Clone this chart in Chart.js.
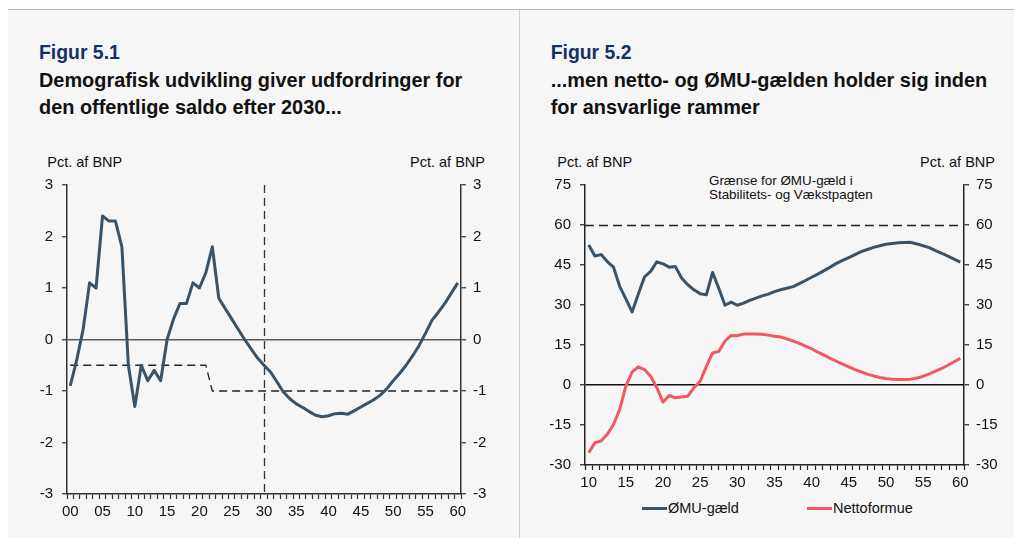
<!DOCTYPE html>
<html lang="da">
<head>
<meta charset="utf-8">
<title>Figur 5.1 og 5.2</title>
<script src="https://cdn.jsdelivr.net/npm/chart.js@4.4.1/dist/chart.umd.min.js"></script>
<style>
  html, body { margin: 0; padding: 0; background: #fff; }
  body { width: 1014px; height: 538px; position: relative; overflow: hidden;
         font-family: 'Liberation Sans', Arial, sans-serif; color: #111; }
  #panel { position: absolute; left: 8px; top: 9px; width: 1006px; height: 529px;
           background: #f6f6f6; border-top: 1px solid #bdbdbd; }
  #divider { position: absolute; left: 519px; top: 10px; width: 1px; height: 528px; background: #d2d2d2; }
  .head { position: absolute; top: 39.4px; font-weight: bold; font-size: 19.9px; line-height: 27.5px; white-space: nowrap; }
  .head .num { color: #13306b; font-size: 19.4px; }
  .unit { position: absolute; top: 153.7px; font-size: 14.5px; line-height: 16px; white-space: nowrap; }
  .note { position: absolute; left: 709px; top: 174.2px; font-size: 13.4px; line-height: 13.6px; white-space: nowrap; }
  .key { position: absolute; top: 500.3px; font-size: 14.5px; line-height: 16px; padding-left: 26.3px; white-space: nowrap; }
  .key span { position: absolute; left: 0; top: 7px; width: 25px; height: 3px; }
  canvas { position: absolute; }
</style>
</head>
<body>
<div id="panel"></div>
<div id="divider"></div>

<div class="head" style="left:39px"><span class="num">Figur 5.1</span><br>Demografisk udvikling giver udfordringer for<br>den offentlige saldo efter 2030...</div>
<div class="head" style="left:550.7px"><span class="num">Figur 5.2</span><br>...men netto- og ØMU-gælden holder sig inden<br>for ansvarlige rammer</div>

<div class="unit" style="left:47.3px">Pct. af BNP</div>
<div class="unit" style="right:529px">Pct. af BNP</div>
<div class="unit" style="left:557.3px">Pct. af BNP</div>
<div class="unit" style="right:19px">Pct. af BNP</div>

<div class="note">Grænse for ØMU-gæld i<br>Stabilitets- og Vækstpagten</div>

<div class="key" style="left:641.7px"><span id="key1"></span>ØMU-gæld</div>
<div class="key" style="left:806.7px"><span id="key2"></span>Nettoformue</div>

<canvas id="fig1" width="500" height="353" style="left:10px;top:167px"></canvas>
<canvas id="fig2" width="484" height="328" style="left:530px;top:167px"></canvas>

<script>
// Figur 5.1: offentlig saldo 2000-2060, pct. af BNP
const fig1Years = Array.from({ length: 61 }, (_, i) => 2000 + i);
const fig1Saldo = [
  -0.9, -0.4, 0.2, 1.1, 1.0, 2.4, 2.3, 2.3, 1.8, -0.5,
  -1.3, -0.5, -0.8, -0.6, -0.8, 0.0, 0.4, 0.7, 0.7, 1.1,
  1.0, 1.3, 1.8, 0.8, 0.6, 0.4, 0.2, 0.0, -0.18, -0.36,
  -0.5, -0.63, -0.82, -1.02, -1.15, -1.25, -1.32, -1.4, -1.47, -1.5,
  -1.48, -1.44, -1.43, -1.45, -1.38, -1.31, -1.24, -1.17, -1.08, -0.96,
  -0.8, -0.66, -0.5, -0.32, -0.12, 0.12, 0.37, 0.53, 0.7, 0.9,
  1.1
];
// Målsætning for strukturel saldo (stiplet)
const fig1Target = [
  -0.5, -0.5, -0.5, -0.5, -0.5, -0.5, -0.5, -0.5, -0.5, -0.5,
  -0.5, -0.5, -0.5, -0.5, -0.5, -0.5, -0.5, -0.5, -0.5, -0.5,
  -0.5, -0.5, -1, -1, -1, -1, -1, -1, -1, -1,
  -1, -1, -1, -1, -1, -1, -1, -1, -1, -1,
  -1, -1, -1, -1, -1, -1, -1, -1, -1, -1,
  -1, -1, -1, -1, -1, -1, -1, -1, -1, -1,
  -1
];
const fig1Split = 2030;
const fig1YTicks = { min: -3, max: 3, step: 1 };

// Figur 5.2: ØMU-gæld og nettoformue 2010-2060, pct. af BNP (61 observationer)
const fig2Debt = [
  52.5, 48.4, 48.9, 46.3, 44.2, 37.0, 32.3, 27.4, 34.0, 40.5,
  42.6, 46.2, 45.4, 44.2, 44.4, 40.1, 37.6, 35.7, 34.2, 33.8,
  42.2, 36.3, 29.9, 31.1, 29.9, 30.7, 31.7, 32.6, 33.4, 34.1,
  35.0, 35.7, 36.3, 36.9, 38.0, 39.2, 40.4, 41.6, 42.9, 44.2,
  45.6, 46.7, 47.8, 48.9, 50.0, 50.8, 51.6, 52.2, 52.8, 53.1,
  53.3, 53.4, 53.5, 52.9, 52.2, 51.5, 50.4, 49.4, 48.3, 47.2,
  46.1
];
const fig2Net = [
  -25.4, -21.6, -21.0, -18.5, -14.8, -9.2, -0.4, 4.8, 6.8, 5.8,
  3.3, -1.0, -6.4, -3.9, -4.8, -4.5, -4.2, -1.0, 1.4, 7.0,
  12.0, 12.6, 16.4, 18.6, 18.5, 19.1, 19.1, 19.1, 19.0, 18.7,
  18.3, 18.0, 17.3, 16.5, 15.6, 14.6, 13.6, 12.3, 11.2, 10.0,
  8.9, 7.8, 6.8, 5.8, 4.9, 4.1, 3.4, 2.8, 2.4, 2.2,
  2.1, 2.1, 2.2, 2.6, 3.3, 4.2, 5.2, 6.2, 7.4, 8.7,
  10.0
];
const fig2First = 2010, fig2Last = 2060;
const fig2Limit = 60;
const fig2YTicks = { min: -30, max: 75, step: 15 };

const navyLine = '#3b5366';
const redLine = '#f2585f';

document.getElementById('key1').style.background = navyLine;
document.getElementById('key2').style.background = redLine;

Chart.defaults.font.family = "'Liberation Sans', Arial, sans-serif";
Chart.defaults.font.size = 15;
Chart.defaults.color = '#111';

// dashed reference lines across the plot area
const refLines = {
  id: 'refLines',
  beforeDatasetsDraw(chart, args, opts) {
    const { ctx, chartArea: a, scales } = chart;
    ctx.save();
    ctx.strokeStyle = opts.color || '#222';
    ctx.lineWidth = opts.width || 1.3;
    ctx.setLineDash(opts.dash || [8, 5]);
    (opts.x || []).forEach(v => {
      const px = Math.round(scales.x.getPixelForValue(v)) + 0.5;
      ctx.beginPath(); ctx.moveTo(px, a.top); ctx.lineTo(px, a.bottom); ctx.stroke();
    });
    (opts.y || []).forEach(v => {
      const py = Math.round(scales.y.getPixelForValue(v)) + 0.5;
      ctx.beginPath(); ctx.moveTo(a.left, py); ctx.lineTo(a.right, py); ctx.stroke();
    });
    ctx.restore();
  }
};

// tick marks sit between the years, labels on every fifth year
function halfTicks(axis) {
  const ticks = [];
  for (let v = axis.min; v <= axis.max + 1e-9; v += 0.5) ticks.push({ value: v });
  axis.ticks = ticks;
}

function xAxis(min, max, height, axisColor) {
  return {
    type: 'linear', min: min, max: max,
    afterBuildTicks: halfTicks,
    afterFit: s => { s.height = height; },
    grid: {
      drawOnChartArea: false, tickLength: 5, tickWidth: 1.2,
      tickColor: c => Number.isInteger(c.tick.value) ? 'rgba(0,0,0,0)' : axisColor
    },
    border: { color: axisColor, width: 1.5 },
    ticks: {
      autoSkip: false, maxRotation: 0, padding: 4,
      callback: v => (Number.isInteger(v) && v % 5 === 0) ? String(v).slice(2) : ''
    }
  };
}

function yAxis(pos, t, width, pad, axisColor, zeroColor) {
  return {
    position: pos, min: t.min, max: t.max,
    afterFit: s => { s.width = width; },
    ticks: { stepSize: t.step, padding: pad },
    grid: {
      drawOnChartArea: pos === 'left',
      color: c => (c.tick && c.tick.value === 0) ? zeroColor : 'rgba(0,0,0,0)',
      lineWidth: 1.5,
      tickColor: axisColor, tickLength: 5, tickWidth: 1.2
    },
    border: { color: axisColor, width: 1.5 }
  };
}

const lineStyle = { pointRadius: 0, borderJoinStyle: 'round', tension: 0, fill: false };

new Chart(document.getElementById('fig1'), {
  type: 'line',
  data: {
    datasets: [
      Object.assign({
        label: 'Saldo',
        data: fig1Saldo.map((v, i) => ({ x: fig1Years[i], y: v })),
        borderColor: navyLine, borderWidth: 3
      }, lineStyle),
      Object.assign({
        label: 'Mål',
        data: fig1Target.map((v, i) => ({ x: fig1Years[i], y: v })),
        borderColor: '#222', borderWidth: 1.3, borderDash: [8, 5]
      }, lineStyle)
    ]
  },
  options: {
    responsive: false, animation: false, devicePixelRatio: 1,
    layout: { padding: 0 },
    plugins: {
      legend: { display: false }, tooltip: { enabled: false },
      refLines: { x: [fig1Split], color: '#333', width: 1.3, dash: [8, 5] }
    },
    scales: {
      x: xAxis(fig1Years[0] - 0.5, fig1Years[fig1Years.length - 1] + 0.5, 26, '#333'),
      y: yAxis('left', fig1YTicks, 57, 9, '#333', '#5a5a5a'),
      y2: yAxis('right', fig1YTicks, 49, 7, '#333', '#5a5a5a')
    }
  },
  plugins: [refLines]
});

const fig2Step = (fig2Last - fig2First) / (fig2Debt.length - 1);

new Chart(document.getElementById('fig2'), {
  type: 'line',
  data: {
    datasets: [
      Object.assign({
        label: 'ØMU-gæld',
        data: fig2Debt.map((v, i) => ({ x: fig2First + i * fig2Step, y: v })),
        borderColor: navyLine, borderWidth: 3
      }, lineStyle),
      Object.assign({
        label: 'Nettoformue',
        data: fig2Net.map((v, i) => ({ x: fig2First + i * fig2Step, y: v })),
        borderColor: redLine, borderWidth: 3
      }, lineStyle)
    ]
  },
  options: {
    responsive: false, animation: false, devicePixelRatio: 1,
    layout: { padding: 0 },
    plugins: {
      legend: { display: false }, tooltip: { enabled: false },
      refLines: { y: [fig2Limit], color: '#222', width: 1.3, dash: [9, 5] }
    },
    scales: {
      x: xAxis(fig2First - 0.5, fig2Last + 0.5, 30, '#222'),
      y: yAxis('left', fig2YTicks, 55, 9, '#222', '#111'),
      y2: yAxis('right', fig2YTicks, 50, 7, '#222', '#111')
    }
  },
  plugins: [refLines]
});
</script>
</body>
</html>
